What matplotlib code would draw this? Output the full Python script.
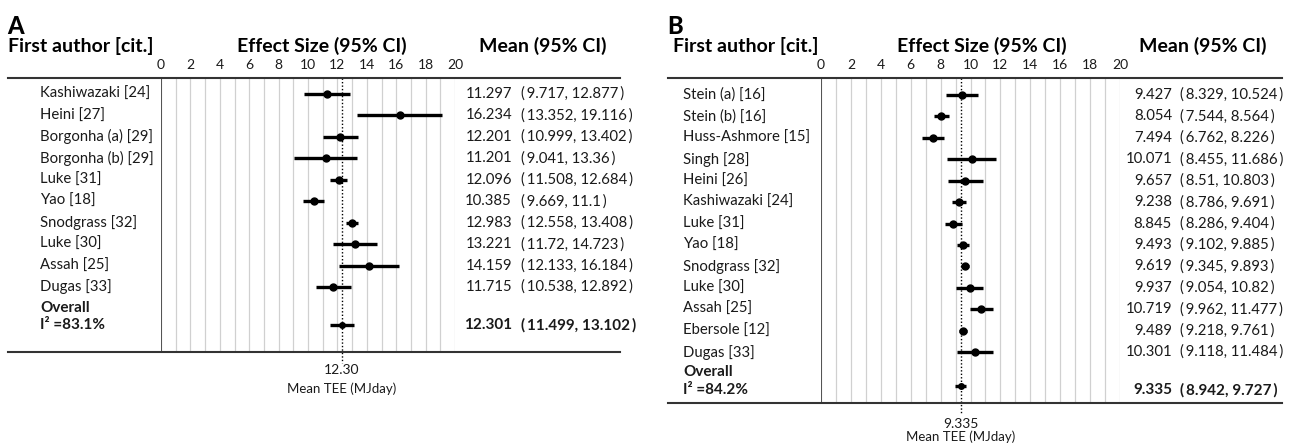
import matplotlib.pyplot as plt
from matplotlib.lines import Line2D
from matplotlib.transforms import blended_transform_factory

plt.rcParams['font.family'] = ['Lato', 'DejaVu Sans']

# Panel A: TEE studies, first set
names_a = ["Kashiwazaki [24]", "Heini [27]", "Borgonha (a) [29]", "Borgonha (b) [29]",
           "Luke [31]", "Yao [18]", "Snodgrass [32]", "Luke [30]", "Assah [25]", "Dugas [33]"]
mean_a = [11.297, 16.234, 12.201, 11.201, 12.096, 10.385, 12.983, 13.221, 14.159, 11.715]
lo_a = [9.717, 13.352, 10.999, 9.041, 11.508, 9.669, 12.558, 11.72, 12.133, 10.538]
hi_a = [12.877, 19.116, 13.402, 13.36, 12.684, 11.1, 13.408, 14.723, 16.184, 12.892]
overall_a = (12.301, 11.499, 13.102)
i2_a = 83.1

# Panel B: TEE studies, second set
names_b = ["Stein (a) [16]", "Stein (b) [16]", "Huss-Ashmore [15]", "Singh [28]", "Heini [26]",
           "Kashiwazaki [24]", "Luke [31]", "Yao [18]", "Snodgrass [32]", "Luke [30]",
           "Assah [25]", "Ebersole [12]", "Dugas [33]"]
mean_b = [9.427, 8.054, 7.494, 10.071, 9.657, 9.238, 8.845, 9.493, 9.619, 9.937, 10.719, 9.489, 10.301]
lo_b = [8.329, 7.544, 6.762, 8.455, 8.51, 8.786, 8.286, 9.102, 9.345, 9.054, 9.962, 9.218, 9.118]
hi_b = [10.524, 8.564, 8.226, 11.686, 10.803, 9.691, 9.404, 9.885, 9.893, 10.82, 11.477, 9.761, 11.484]
overall_b = (9.335, 8.942, 9.727)
i2_b = 84.2

x_ticks = list(range(0, 21, 2))

W, H = 1294, 444
fig = plt.figure(figsize=(W / 100, H / 100), dpi=100)
TXT = '#1a1a1a'
SP = '\u2009'  # thin space inside the CI brackets


def fx(px):
    return px / W


def fy(py):
    return 1 - py / H


def ci_text(l, h):
    return f"({SP}{l:g}, {h:g}{SP})"


def forest(letter, names, means, lo, hi, overall, i2, ref_label, g):
    left, right, top, bottom = g['left'], g['right'], g['top'], g['bottom']
    row0, step = g['row0'], g['step']
    ax = fig.add_axes([fx(left), fy(bottom), fx(right - left), (bottom - top) / H])
    ax.set_xlim(0, 20)
    ax.set_ylim((bottom - row0) / step, (top - row0) / step)
    ax.axis('off')

    def py(p):
        return (p - row0) / step

    # light vertical grid every 1 unit, solid axis at 0
    for v in range(1, 21):
        ax.axvline(v, color='#d0d0d0', lw=0.9, zorder=0)
    ax.axvline(0, color='#555555', lw=1.5, zorder=1)

    ys = list(range(len(names)))
    oy = py(g['overall'])
    ax.hlines(ys, lo, hi, color='black', lw=2.4, zorder=3)
    ax.plot(means, ys, 'o', color='black', ms=5, zorder=4)
    ax.hlines([oy], overall[1], overall[2], color='black', lw=2.4, zorder=3)
    ax.plot([overall[0]], [oy], 'o', color='black', ms=4, zorder=4)

    # dotted reference line through the pooled mean
    ref = Line2D([overall[0], overall[0]], [py(top), py(g['dot_end'])],
                 color='black', lw=1.0, ls=(0, (1.0, 1.5)), clip_on=False, zorder=2)
    ax.add_line(ref)
    ax.text(overall[0], py(g['ref_y']), ref_label, ha='center', va='center',
            fontsize=10, color=TXT, clip_on=False)
    ax.text(overall[0], py(g['ref_y2']), 'Mean TEE (MJday)', ha='center',
            va='center', fontsize=9.5, color=TXT, clip_on=False)

    # tick labels above the panel
    for t in x_ticks:
        ax.text(t, py(65), str(t), ha='center', va='center', fontsize=10,
                color=TXT, clip_on=False)

    tr = blended_transform_factory(fig.transFigure, ax.transData)
    for y, name, m, l, h in zip(ys, names, means, lo, hi):
        ax.text(fx(g['name_x']), y, name, transform=tr, ha='left', va='center',
                fontsize=10.7, color=TXT)
        ax.text(fx(g['mean_x']), y, f"{m:g}", transform=tr, ha='right', va='center',
                fontsize=10.7, color=TXT)
        ax.text(fx(g['ci_x']), y, ci_text(l, h), transform=tr, ha='left', va='center',
                fontsize=10.7, color=TXT)

    ty = py(g['overall_txt'])
    ax.text(fx(g['name_x']), py(g['overall_lbl']), 'Overall', transform=tr, ha='left',
            va='center', fontsize=11, fontweight='bold', color=TXT)
    ax.text(fx(g['name_x']), ty, f"I\u00b2 ={i2}%", transform=tr, ha='left', va='center',
            fontsize=11, fontweight='bold', color=TXT)
    ax.text(fx(g['mean_x']), ty, f"{overall[0]:g}", transform=tr, ha='right', va='center',
            fontsize=11, fontweight='bold', color=TXT)
    ax.text(fx(g['ci_x']), ty, ci_text(overall[1], overall[2]), transform=tr,
            ha='left', va='center', fontsize=11, fontweight='bold', color=TXT)

    # header row and rules
    fig.text(fx(g['letter_x']), fy(27), letter, fontsize=17, fontweight='black', va='center',
             color='black')
    fig.text(fx(g['head_x']), fy(46), 'First author [cit.]', fontsize=14, fontweight='bold',
             va='center', color='black')
    fig.text(fx(g['effect_x']), fy(46), 'Effect Size (95% CI)', fontsize=14,
             fontweight='bold', va='center', ha='center', color='black')
    fig.text(fx(g['meanhead_x']), fy(46), 'Mean (95% CI)', fontsize=14, fontweight='bold',
             va='center', ha='center', color='black')
    for yy in (top, bottom):
        fig.add_artist(Line2D([fx(g['rule_l']), fx(g['rule_r'])], [fy(yy), fy(yy)],
                              color='#333333', lw=1.5))


forest('A', names_a, mean_a, lo_a, hi_a, overall_a, i2_a, f"{overall_a[0]:.2f}",
       dict(left=161, right=455, top=78, bottom=352, row0=94, step=21.44, overall=325,
            overall_lbl=308, overall_txt=325, dot_end=363, ref_y=370, ref_y2=389,
            name_x=40, mean_x=512, ci_x=521, letter_x=7, head_x=8,
            effect_x=322, meanhead_x=543, rule_l=8, rule_r=620))
forest('B', names_b, mean_b, lo_b, hi_b, overall_b, i2_b, f"{overall_b[0]:g}",
       dict(left=821, right=1120, top=78, bottom=403, row0=95, step=21.42, overall=386,
            overall_lbl=372, overall_txt=390, dot_end=413, ref_y=424, ref_y2=437,
            name_x=683, mean_x=1172, ci_x=1180, letter_x=667,
            head_x=673, effect_x=982, meanhead_x=1203, rule_l=668, rule_r=1282))

fig.savefig('out.png', dpi=100)
